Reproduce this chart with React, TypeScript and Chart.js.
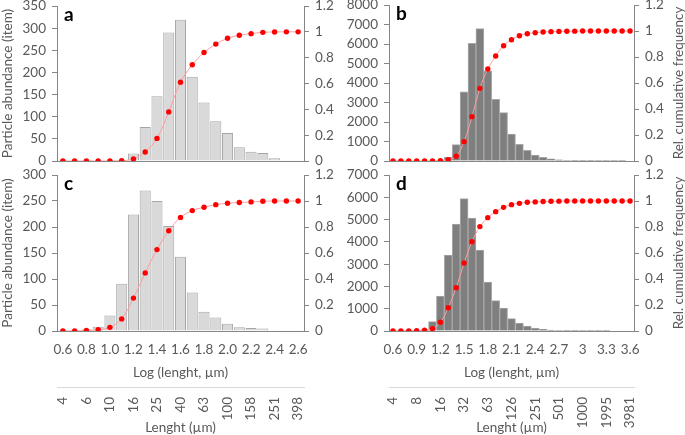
import React, { useEffect, useRef } from 'react';
import { Chart, registerables } from 'chart.js';

Chart.register(...registerables);

// ---------- data ----------
const logBinsA = ['0.6','0.7','0.8','0.9','1.0','1.1','1.2','1.3','1.4','1.5','1.6','1.7','1.8','1.9','2.0','2.1','2.2','2.3','2.4','2.5','2.6'];
const logBinsB = ['0.6','0.7','0.8','0.9','1.0','1.1','1.2','1.3','1.4','1.5','1.6','1.7','1.8','1.9','2.0','2.1','2.2','2.3','2.4','2.5','2.6','2.7','2.8','2.9','3.0','3.1','3.2','3.3','3.4','3.5','3.6'];

const logTicksA = ['0.6','0.8','1.0','1.2','1.4','1.6','1.8','2.0','2.2','2.4','2.6'];
const logTicksB = ['0.6','0.9','1.2','1.5','1.8','2.1','2.4','2.7','3','3.3','3.6'];
const lengthTicksA = ['4','6','10','16','25','40','63','100','158','251','398'];
const lengthTicksB = ['4','8','16','32','63','126','251','501','1000','1995','3981'];

const countsA = [0,0,0,0,0,2,17,77,146,290,319,190,132,90,63,31,21,18,6,1.5,1.5];
const cumA = [0,0,0,0,0,0.003,0.015,0.07,0.175,0.38,0.61,0.745,0.84,0.905,0.95,0.973,0.986,0.996,0.999,1,1];

const countsB = [0,0,0,0,0,0,30,205,840,3550,6030,6790,4630,3160,2480,1385,855,547,310,190,110,60,30,15,8,5,3,2,1,1,0];
const cumB = [0,0,0,0,0,0,0.003,0.01,0.036,0.149,0.341,0.559,0.708,0.808,0.887,0.933,0.964,0.979,0.987,0.992,0.995,0.997,0.998,0.999,1,1,1,1,1,1,1];

const countsC = [0,1,3,8,30,91,224,270,250,202,143,74,37,26,14,7,6,5,1,0.5,0.5];
const cumC = [0,0.001,0.004,0.01,0.028,0.093,0.253,0.447,0.626,0.771,0.874,0.926,0.952,0.972,0.983,0.988,0.993,0.998,1,1,1];

const countsD = [0,0,5,20,60,420,1570,3410,4800,5940,5070,3630,2200,1360,1030,553,360,224,135,75,40,20,10,5,3,2,1,1,0,0,0];
const cumD = [0,0,0.001,0.003,0.006,0.018,0.067,0.179,0.333,0.523,0.687,0.803,0.872,0.918,0.951,0.972,0.982,0.99,0.993,0.996,0.998,0.999,1,1,1,1,1,1,1,1,1];

// ---------- style ----------
const FONT = 'Lato';
const TXT = '#595959';
const AXIS = '#868686';
const FS = 13.5;

Chart.defaults.font.family = FONT;
Chart.defaults.font.size = FS;
Chart.defaults.color = TXT;

type Geom = { left: number; top: number; w: number; h: number; padTop: number; leftW: number; rightW: number; xH: number; x2H: number };

type Spec = {
  bins: string[];
  counts: number[];
  cum: number[];
  logTicks: string[];
  lengthTicks: string[];
  step: number;
  yMax: number;
  yStep: number;
  barColor: string;
  barBorder: string;
  barPct: number;
  letter: string;
  leftTitle: boolean;
  rightTitle: boolean;
  withX: boolean;
  geom: Geom;
};

const annotPlugin = {
  id: 'annot',
  afterDraw(chart: any, _args: any, opts: any) {
    const { ctx, chartArea } = chart;
    ctx.save();
    ctx.fillStyle = '#000';
    ctx.font = `bold 19px ${FONT}`;
    ctx.textAlign = 'left';
    ctx.textBaseline = 'alphabetic';
    ctx.fillText(opts.letter, chartArea.left + 7, chartArea.top + 15);
    if (opts.rightTitle) {
      ctx.translate(opts.rightX, (chartArea.top + chartArea.bottom) / 2);
      ctx.rotate(-Math.PI / 2);
      ctx.font = `${FS}px ${FONT}`;
      ctx.fillStyle = TXT;
      ctx.textAlign = 'center';
      ctx.textBaseline = 'alphabetic';
      ctx.fillText('Rel. cumulative frequency', 0, 0);
    }
    ctx.restore();
  },
};

function buildConfig(spec: Spec): any {
  const g = spec.geom;
  const yGrid = { display: true, drawOnChartArea: false, drawTicks: true, tickLength: 5, color: AXIS };
  const scales: any = {
    x: {
      type: 'category',
      position: 'bottom',
      weight: 0,
      offset: true,
      grid: { display: false, drawTicks: false },
      border: { display: true, color: AXIS },
      ticks: {
        display: spec.withX,
        autoSkip: false,
        maxRotation: 0,
        minRotation: 0,
        padding: 11,
        color: TXT,
        callback: (_v: any, i: number) => (i % spec.step === 0 ? spec.logTicks[i / spec.step] : ''),
      },
      title: { display: spec.withX, text: 'Log (lenght, µm)', color: TXT, padding: { top: 0, bottom: 6 } },
      afterFit: (s: any) => { s.height = g.xH; s.paddingLeft = 0; s.paddingRight = 0; },
    },
    y: {
      type: 'linear',
      position: 'left',
      min: 0,
      max: spec.yMax,
      grid: yGrid,
      border: { display: true, color: AXIS },
      ticks: { stepSize: spec.yStep, autoSkip: false, padding: 6, color: TXT, callback: (v: any) => String(v) },
      title: { display: spec.leftTitle, text: 'Particle abundance (item)', color: TXT, padding: { top: 0, bottom: 0 } },
      afterFit: (s: any) => { s.width = g.leftW; s.paddingTop = 0; s.paddingBottom = 0; },
    },
    y1: {
      type: 'linear',
      position: 'right',
      min: 0,
      max: 1.2,
      grid: yGrid,
      border: { display: true, color: AXIS },
      ticks: { stepSize: 0.2, autoSkip: false, padding: 6, color: TXT, callback: (v: any) => String(Math.round(Number(v) * 10) / 10) },
      afterFit: (s: any) => { s.width = g.rightW; s.paddingTop = 0; s.paddingBottom = 0; },
    },
  };
  if (spec.withX) {
    scales.x2 = {
      type: 'category',
      position: 'bottom',
      weight: 1,
      offset: true,
      labels: spec.bins.map((_b, i) => (i % spec.step === 0 ? spec.lengthTicks[i / spec.step] : '')),
      grid: { display: false, drawTicks: false },
      border: { display: true, color: '#d9d9d9' },
      ticks: { autoSkip: false, minRotation: 90, maxRotation: 90, padding: 10, color: TXT },
      title: { display: true, text: 'Lenght (µm)', color: TXT, padding: { top: 0, bottom: -1 } },
      afterFit: (s: any) => { s.height = g.x2H; s.paddingLeft = 0; s.paddingRight = 0; },
    };
  }
  return {
    type: 'bar',
    data: {
      labels: spec.bins,
      datasets: [
        {
          type: 'line',
          data: spec.cum,
          yAxisID: 'y1',
          xAxisID: 'x',
          borderColor: '#ff9c9c',
          borderWidth: 1,
          pointRadius: 2.7,
          pointBackgroundColor: '#ff0000',
          pointBorderColor: '#ff0000',
          pointBorderWidth: 0,
          tension: 0.35,
          order: 0,
        },
        {
          type: 'bar',
          data: spec.counts,
          yAxisID: 'y',
          xAxisID: 'x',
          backgroundColor: spec.barColor,
          borderColor: spec.barBorder,
          borderWidth: 1,
          barPercentage: spec.barPct,
          categoryPercentage: 1,
          order: 1,
        },
      ],
    },
    options: {
      responsive: false,
      animation: false,
      devicePixelRatio: 1,
      layout: { padding: { top: g.padTop, left: 0, right: 0, bottom: 0 } },
      plugins: {
        legend: { display: false },
        tooltip: { enabled: false },
        annot: { letter: spec.letter, rightTitle: spec.rightTitle, rightX: g.w - 2 },
      },
      scales,
    },
    plugins: [annotPlugin],
  };
}

function Panel({ spec }: { spec: Spec }) {
  const ref = useRef<HTMLCanvasElement | null>(null);
  useEffect(() => {
    if (!ref.current) return;
    const chart = new Chart(ref.current, buildConfig(spec));
    return () => chart.destroy();
  }, [spec]);
  const g = spec.geom;
  return (
    <div style={{ position: 'absolute', left: g.left, top: g.top, width: g.w, height: g.h }}>
      <canvas ref={ref} width={g.w} height={g.h} style={{ width: g.w, height: g.h, display: 'block' }} />
    </div>
  );
}

const LIGHT = '#d9d9d9';
const LIGHT_B = '#a6a6a6';
const DARK = '#7f7f7f';
const DARK_B = '#a9a9a9';

const specA: Spec = {
  bins: logBinsA, counts: countsA, cum: cumA, logTicks: logTicksA, lengthTicks: lengthTicksA, step: 2,
  yMax: 350, yStep: 50, barColor: LIGHT, barBorder: LIGHT_B, barPct: 0.94, letter: 'a',
  leftTitle: true, rightTitle: false, withX: false,
  geom: { left: 0, top: 0, w: 340, h: 168, padTop: 6, leftW: 57, rightW: 36, xH: 7, x2H: 0 },
};
const specB: Spec = {
  bins: logBinsB, counts: countsB, cum: cumB, logTicks: logTicksB, lengthTicks: lengthTicksB, step: 3,
  yMax: 8000, yStep: 1000, barColor: DARK, barBorder: DARK_B, barPct: 1, letter: 'b',
  leftTitle: false, rightTitle: true, withX: false,
  geom: { left: 340, top: 0, w: 345, h: 168, padTop: 5, leftW: 49, rightW: 51, xH: 7, x2H: 0 },
};
const specC: Spec = {
  bins: logBinsA, counts: countsC, cum: cumC, logTicks: logTicksA, lengthTicks: lengthTicksA, step: 2,
  yMax: 300, yStep: 50, barColor: LIGHT, barBorder: LIGHT_B, barPct: 0.94, letter: 'c',
  leftTitle: true, rightTitle: false, withX: true,
  geom: { left: 0, top: 168, w: 340, h: 267, padTop: 7, leftW: 57, rightW: 36, xH: 56, x2H: 48 },
};
const specD: Spec = {
  bins: logBinsB, counts: countsD, cum: cumD, logTicks: logTicksB, lengthTicks: lengthTicksB, step: 3,
  yMax: 7000, yStep: 1000, barColor: DARK, barBorder: DARK_B, barPct: 1, letter: 'd',
  leftTitle: false, rightTitle: true, withX: true,
  geom: { left: 340, top: 168, w: 345, h: 267, padTop: 7, leftW: 49, rightW: 51, xH: 56, x2H: 48 },
};

export default function App() {
  return (
    <div style={{ position: 'fixed', left: 0, top: 0, width: 685, height: 435, background: '#fff', overflow: 'hidden' }}>
      <Panel spec={specA} />
      <Panel spec={specB} />
      <Panel spec={specC} />
      <Panel spec={specD} />
    </div>
  );
}
